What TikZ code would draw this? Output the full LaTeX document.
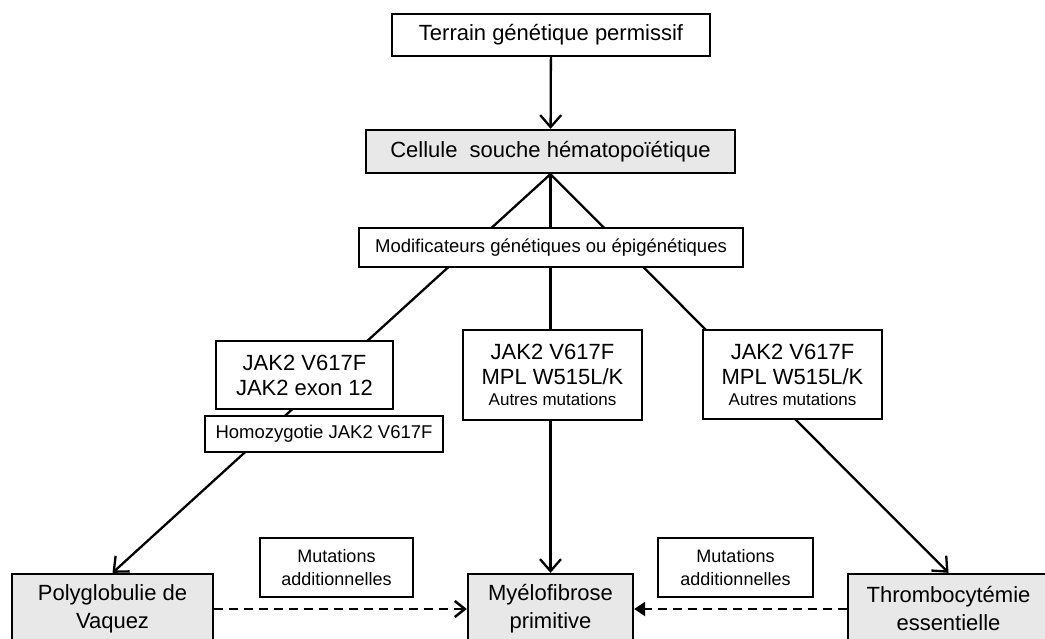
\documentclass[tikz,border=0pt]{standalone}
\usepackage{fontspec}
\setmainfont{Liberation Sans}
\usetikzlibrary{arrows.meta,positioning,backgrounds}
\definecolor{boxgray}{RGB}{232,232,232}

\begin{document}
\begin{tikzpicture}[x=1pt,y=-1pt,
  n/.style={draw,line width=2.3pt,fill=white,inner sep=0pt,align=center,font=\fontsize{22}{25}\selectfont},
  g/.style={n,fill=boxgray},
  sm/.style={font=\fontsize{18.5}{21}\selectfont},
  xs/.style={font=\fontsize{18}{23}\selectfont},
  ar/.style={-{Straight Barb[length=12pt,width=21pt]},line width=2.3pt},
  da/.style={line width=2.5pt,dash pattern=on 9pt off 6pt}]
\useasboundingbox (0,0) rectangle (1045,639);
\clip (0,0) rectangle (1045,639);
\node[n,minimum width=318pt,minimum height=42pt] (terr) at (551,35) {Terrain génétique permissif};
\node[g,minimum width=369pt,minimum height=43pt] (csh) at (550.5,151.5) {Cellule~ souche hématopoïétique};
\node[n,sm,minimum width=384pt,minimum height=39pt] (modif) at (551,247.5) {Modificateurs génétiques ou épigénétiques};
\node[n,minimum width=177pt,minimum height=68pt] (jakpv) at (304.5,375) {JAK2 V617F\\JAK2 exon 12};
\node[n,sm,minimum width=238pt,minimum height=36pt] (homo) at (324,434) {Homozygotie JAK2 V617F};
\node[n,minimum width=179pt,minimum height=90pt] (jakmf) at (552.5,375) {JAK2 V617F\\MPL W515L/K\\[-4pt]{\fontsize{17}{20}\selectfont Autres mutations}};
\node[n,minimum width=179pt,minimum height=89pt] (jakte) at (792.5,374.5) {JAK2 V617F\\MPL W515L/K\\[-4pt]{\fontsize{17}{20}\selectfont Autres mutations}};
\node[g,font=\fontsize{22}{28}\selectfont,minimum width=201pt,minimum height=70pt] (pv) at (112.5,609) {Polyglobulie de\\Vaquez};
\node[g,font=\fontsize{22}{28}\selectfont,minimum width=165pt,minimum height=70pt] (mf) at (550.5,609) {Myélofibrose\\primitive};
\node[g,font=\fontsize{22}{28}\selectfont,minimum width=201pt,minimum height=70pt] (te) at (948.5,609) {Thrombocytémie\\essentielle};
\node[n,xs,minimum width=153pt,minimum height=59pt] (mut1) at (336.5,567.5) {Mutations\\additionnelles};
\node[n,xs,minimum width=155pt,minimum height=59pt] (mut2) at (735.5,567.5) {Mutations\\additionnelles};
% lignes derriere les boites
\begin{scope}[on background layer]
\draw[ar] (terr) -- (csh);
\draw[ar] (csh.south) -- (pv.north);
\draw[ar] (csh.south) -- (mf.north);
\draw[ar] (csh.south) -- (te.north);
\end{scope}
\draw[da,-{Straight Barb[length=10pt,width=16pt]}] (pv.east) -- (mf.west);
\draw[da,-{Triangle[length=11pt,width=14pt]}] (te.west) -- (mf.east);
\end{tikzpicture}
\end{document}
